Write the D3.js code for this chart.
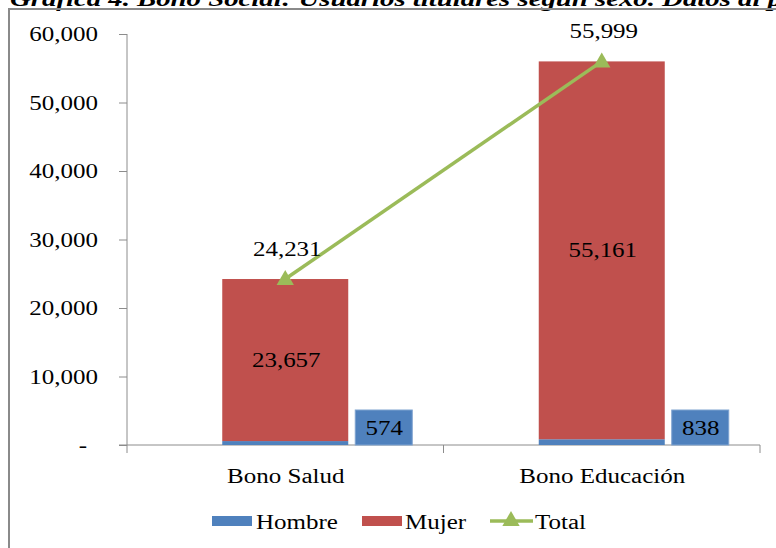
<!DOCTYPE html>
<html><head><meta charset="utf-8">
<script src="https://cdn.jsdelivr.net/npm/d3@7"></script>
<style>
html,body{margin:0;padding:0;background:#fff;}
svg{display:block;}
text{font-family:"Liberation Serif","Times New Roman",serif;fill:#000;}
</style></head>
<body>
<svg id="chart" width="776" height="548"></svg>
<script>
const categories = ["Bono Salud", "Bono Educación"];
const hombre = [574, 838];
const mujer = [23657, 55161];
const total = [24231, 55999];
const yTicks = [0, 10000, 20000, 30000, 40000, 50000, 60000];
const seriesNames = ["Hombre", "Mujer", "Total"];
const titleText = "Gráfica 4. Bono Social: Usuarios titulares según sexo. Datos al p";

const colors = {Hombre: "#4F81BD", Mujer: "#C0504D", Total: "#9BBB59"};
const axisColor = "#8c8c8c";
const SX = 1.25; // horizontal stretch of the original raster

const svg = d3.select("#chart");

const x = d3.scaleBand().domain(categories).range([127, 760]).padding(0);
const y = d3.scaleLinear().domain([0, 60000]).range([445, 34]);
const barW = 126;
const fmt = d3.format(",");

function label(g, tx, ty, str, opts = {}) {
  return g.append("text")
    .attr("transform", `translate(${tx},${ty}) scale(${SX},1)`)
    .attr("text-anchor", opts.anchor || "middle")
    .style("font-size", (opts.size || 20) + "px")
    .style("font-weight", opts.weight || "normal")
    .style("font-style", opts.style || "normal")
    .text(str);
}

// title (clipped at top)
svg.append("text")
  .attr("x", 10).attr("y", 6)
  .attr("textLength", 772).attr("lengthAdjust", "spacingAndGlyphs")
  .style("font-size", "20px").style("font-weight", "bold").style("font-style", "italic")
  .text(titleText);

// frame
svg.append("path")
  .attr("d", "M9,560 V9 H790")
  .attr("fill", "none").attr("stroke", "#8a8a8a").attr("stroke-width", 2);

// y axis
const yAxis = svg.append("g").attr("transform", "translate(127,0)")
  .call(d3.axisLeft(y).tickValues(yTicks).tickSize(8).tickFormat(() => ""));
yAxis.select(".domain").attr("stroke", axisColor).attr("d", `M0,${y(60000)}V${y(0)}`);
yAxis.selectAll(".tick line").attr("stroke", axisColor);
yTicks.forEach(v => {
  if (v === 0) label(svg, 83, y(v) + 7, "-", {anchor: "middle"});
  else label(svg, 98, y(v) + 7, fmt(v), {anchor: "end"});
});

// x axis
const xAxisG = svg.append("g").attr("transform", `translate(0,${y(0)})`);
xAxisG.append("line").attr("x1", 119).attr("x2", 760).attr("stroke", axisColor);
const bounds = [x(categories[0]), ...categories.map(c => x(c) + x.bandwidth())];
xAxisG.selectAll("line.tk").data(bounds).enter().append("line")
  .attr("class", "tk").attr("x1", d => d).attr("x2", d => d)
  .attr("y1", 0).attr("y2", 8).attr("stroke", axisColor);
categories.forEach(c => label(svg, x(c) + x.bandwidth() / 2 + 0.5, 483, c));

// stacked bars
categories.forEach((c, i) => {
  const cx = x(c) + x.bandwidth() / 2;
  svg.append("rect").attr("x", cx - barW / 2).attr("width", barW)
    .attr("y", y(hombre[i])).attr("height", y(0) - y(hombre[i]))
    .attr("fill", colors.Hombre);
  svg.append("rect").attr("x", cx - barW / 2).attr("width", barW)
    .attr("y", y(hombre[i] + mujer[i])).attr("height", y(hombre[i]) - y(hombre[i] + mujer[i]))
    .attr("fill", colors.Mujer);
  // Mujer label centered
  const mid = (y(hombre[i]) + y(hombre[i] + mujer[i])) / 2;
  label(svg, cx + 1, mid + 7, fmt(mujer[i]));
  // Hombre label box
  const bx = cx + 70;
  svg.append("rect").attr("x", bx).attr("y", y(0) - 35).attr("width", 57).attr("height", 35)
    .attr("fill", colors.Hombre).attr("stroke", "#7fa3d0").attr("stroke-width", 1);
  label(svg, bx + 29, y(0) - 10, fmt(hombre[i]));
});

// total line
const line = d3.line().x((d, i) => x(categories[i]) + x.bandwidth() / 2).y(d => y(d));
svg.append("path").datum(total).attr("d", line)
  .attr("fill", "none").attr("stroke", colors.Total).attr("stroke-width", 3.5);
const tri = d3.symbol().type(d3.symbolTriangle).size(130);
total.forEach((v, i) => {
  const cx = x(categories[i]) + x.bandwidth() / 2;
  svg.append("path").attr("d", tri).attr("transform", `translate(${cx},${y(v) + 1})`)
    .attr("fill", colors.Total);
  label(svg, cx + 2, y(v) - 23, fmt(v));
});

// legend
const lg = svg.append("g");
const ly = 521;
lg.append("rect").attr("x", 212).attr("y", ly - 5).attr("width", 40).attr("height", 10).attr("fill", colors.Hombre);
label(lg, 256, ly + 8, seriesNames[0], {anchor: "start"});
lg.append("rect").attr("x", 362).attr("y", ly - 5).attr("width", 40).attr("height", 10).attr("fill", colors.Mujer);
label(lg, 405, ly + 8, seriesNames[1], {anchor: "start"});
lg.append("line").attr("x1", 490).attr("x2", 533).attr("y1", ly).attr("y2", ly)
  .attr("stroke", colors.Total).attr("stroke-width", 3.5);
lg.append("path").attr("d", tri).attr("transform", `translate(511,${ly})`).attr("fill", colors.Total);
label(lg, 535, ly + 8, seriesNames[2], {anchor: "start"});
</script>
</body></html>
